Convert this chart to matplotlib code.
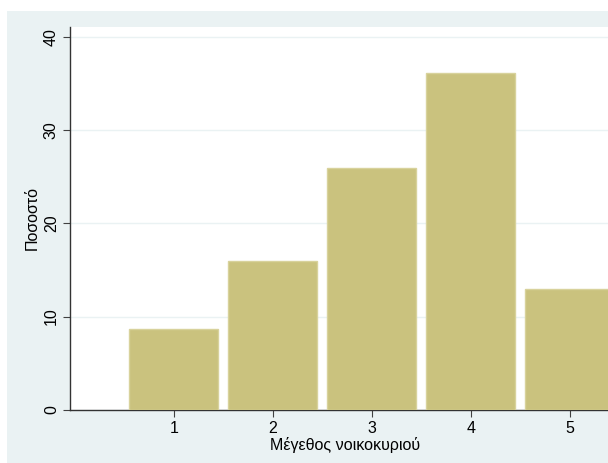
import matplotlib
matplotlib.use('Agg')
import matplotlib.pyplot as plt
from matplotlib.patches import Rectangle

# Household size distribution (percent)
sizes = [1, 2, 3, 4, 5]
percent = [8.62, 15.94, 25.98, 36.16, 13.0]
yticks = [0, 10, 20, 30, 40]

plt.rcParams['font.family'] = ['Liberation Sans', 'DejaVu Sans']

W, H = 608, 463
fig = plt.figure(figsize=(W / 100, H / 100), dpi=100)
fig.patch.set_facecolor('white')

# Stata-like outer region
fig.patches.append(Rectangle((7 / W, 0), 1, 1 - 11 / H, transform=fig.transFigure,
                             facecolor='#eaf2f3', edgecolor='none', zorder=-10))

left, right = 70, 620
top, bottom = 27, 409.7
ax = fig.add_axes([left / W, (H - bottom) / H, (right - left) / W, (bottom - top) / H])
ax.set_facecolor('white')

ax.bar(sizes, percent, width=0.9, color='#cac27e', edgecolor='#d8d29c', linewidth=1, zorder=3)

ax.set_xlim(-0.05, 5.51)
ax.set_ylim(0, 41.08)
ax.set_yticks(yticks)
ax.set_xticks(sizes)
ax.yaxis.grid(True, color='#eaf2f3', linewidth=1, zorder=0)
ax.set_axisbelow(True)

for s in ['top', 'right']:
    ax.spines[s].set_visible(False)
for s in ['left', 'bottom']:
    ax.spines[s].set_color('#333333')
    ax.spines[s].set_linewidth(1)

ax.tick_params(axis='both', direction='out', length=5, color='#404040', labelsize=11.5, pad=3)
for lab in ax.get_yticklabels():
    lab.set_rotation(90)
    lab.set_va('center')

ax.set_ylabel('Ποσοστό', fontsize=11.5, labelpad=3)
ax.set_xlabel('Μέγεθος νοικοκυριού', fontsize=11.5, labelpad=1)

fig.savefig('out.png', dpi=100)
